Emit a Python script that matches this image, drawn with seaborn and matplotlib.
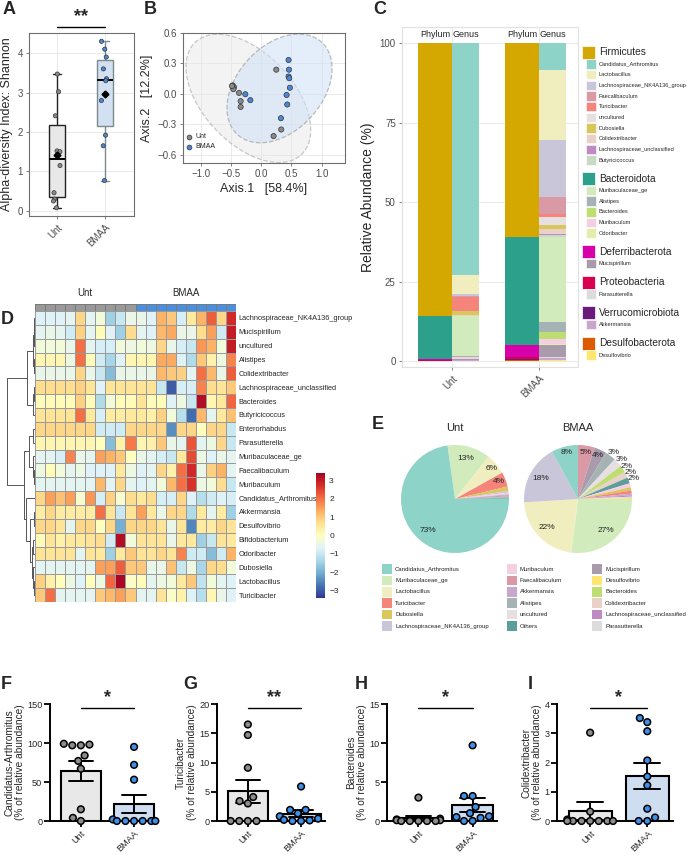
import numpy as np
import pandas as pd
import matplotlib
matplotlib.use("Agg")
import matplotlib.pyplot as plt
import seaborn as sns
from matplotlib.patches import Rectangle, Ellipse
from matplotlib.colors import LinearSegmentedColormap, ListedColormap

sns.set_style("white")
plt.rcParams["font.family"] = ["Liberation Sans", "DejaVu Sans"]

# ---------------- data ----------------
groups = ["Unt", "BMAA"]

# A: Shannon
shannon_unt = [3.47, 3.02, 2.41, 1.52, 1.50, 1.15, 0.46, 0.30, 0.25, 0.08]
shannon_bmaa = [4.30, 4.10, 3.90, 3.60, 3.35, 3.30, 2.80, 1.92, 1.65, 0.77]

# B: PCoA
pcoa_unt_x = [-0.475, -0.453, -0.464, -0.486, -0.37, -0.343, -0.343, 0.249, 0.331, 0.204]
pcoa_unt_y = [0.084, 0.067, 0.047, 0.078, 0.01, -0.071, -0.128, 0.239, -0.35, -0.415]
pcoa_bmaa_x = [-0.265, -0.182, 0.453, 0.459, 0.453, 0.464, 0.475, 0.42, 0.431, 0.326]
pcoa_bmaa_y = [-0.003, -0.061, 0.334, 0.239, 0.172, 0.155, 0.061, -0.01, -0.104, -0.239]

# C: stacked composition
phyla = ["Firmicutes", "Bacteroidota", "Deferribacterota", "Proteobacteria",
         "Verrucomicrobiota", "Desulfobacterota"]
phylum_unt = [85.8, 13.6, 0.3, 0.1, 0.15, 0.05]
phylum_bmaa = [61.0, 34.0, 3.8, 0.6, 0.3, 0.3]
phylum_genera = [
    ["Candidatus_Arthromitus", "Lactobacillus", "Lachnospiraceae_NK4A136_group", "Faecalibaculum",
     "Turicibacter", "uncultured", "Dubosiella", "Colidextribacter", "Lachnospiraceae_unclassified",
     "Butyricicoccus"],
    ["Muribaculaceae_ge", "Alistipes", "Bacteroides", "Muribaculum", "Odoribacter"],
    ["Mucispirillum"],
    ["Parasutterella"],
    ["Akkermansia"],
    ["Desulfovibrio"],
]
genus_stack = [g for lst in phylum_genera for g in lst]
genus_unt = [73.0, 6.0, 0.5, 0.2, 4.4, 0.2, 1.3, 0.1, 0.05, 0.05,
             12.6, 0.2, 0.03, 0.5, 0.1, 0.3, 0.1, 0.3, 0.05]
genus_bmaa = [8.5, 21.8, 18.2, 5.2, 1.0, 2.6, 1.0, 1.6, 0.5, 0.4,
              26.8, 3.2, 2.2, 1.6, 0.3, 3.7, 0.5, 0.4, 0.4]

# D: heatmap (z-scores)
heat_rows = ["Lachnospiraceae_NK4A136_group", "Mucispirillum", "uncultured", "Alistipes",
             "Colidextribacter", "Lachnospiraceae_unclassified", "Bacteroides", "Butyricicoccus",
             "Enterorhabdus", "Parasutterella", "Muribaculaceae_ge", "Faecalibaculum", "Muribaculum",
             "Candidatus_Arthromitus", "Akkermansia", "Desulfovibrio", "Bifidobacterium",
             "Odoribacter", "Dubosiella", "Lactobacillus", "Turicibacter"]
heat_unt = [
    [-0.7, -0.7, -0.7, -0.6, 0.8, -0.6, -0.3, -1.5, -1.0, -0.5],
    [-0.6, -0.5, -0.6, -0.9, 0.9, -0.6, 0.1, -0.7, -1.5, 0.7],
    [-0.3, -0.3, -0.3, -0.5, 2.0, -0.6, -0.8, -0.8, -0.3, -0.4],
    [0.2, 0.2, 0.2, -0.4, 2.0, 0.1, -0.9, -1.4, -0.7, 0.2],
    [-0.5, -0.5, -0.5, -0.5, 0.8, -0.5, -1.0, -1.8, -0.5, -0.5],
    [0.7, 0.7, 0.7, 0.7, 0.9, 0.6, -0.7, 0.6, 0.6, 0.6],
    [0.1, 0.1, 0.1, 0.1, 0.9, 0.1, -1.3, -0.3, 0.1, 0.1],
    [0.6, 0.6, 0.6, 0.6, 2.0, 0.5, -0.8, 0.4, 0.4, 0.5],
    [0.8, 0.8, 0.8, 0.8, 0.8, 0.8, -0.9, -0.9, -0.9, 0.8],
    [0.2, 0.2, 0.2, 0.2, 0.2, 0.2, 0.0, -1.8, 0.3, 1.9],
    [-0.6, -0.6, -0.8, 1.8, -0.5, -0.6, 1.5, 1.3, 1.0, 0.0],
    [-0.4, 0.1, -0.3, -0.6, -0.4, -0.7, -0.7, -0.7, 0.5, -0.4],
    [-0.6, -0.6, -0.6, -0.6, -0.6, -0.6, 1.2, -0.6, 0.8, -0.6],
    [0.8, 1.5, 1.1, 1.5, -0.2, 1.6, -0.8, 0.9, -0.2, 0.7],
    [0.4, 0.8, 0.4, 0.4, 0.4, 0.4, 2.0, 0.6, -1.0, 0.6],
    [0.8, 0.8, 0.6, -0.6, 0.8, 0.8, 0.0, 0.8, -2.0, 0.8],
    [0.1, 0.6, 0.3, 0.5, 0.5, 0.6, 0.7, -0.9, 3.2, -0.3],
    [0.6, 0.6, 0.6, 0.6, -0.6, 0.6, 0.5, -1.5, 0.5, 1.0],
    [-0.6, -0.6, -0.6, -0.6, -0.6, -0.6, 1.5, 1.5, 2.2, 1.0],
    [0.9, 0.3, 0.0, -0.4, -0.7, 0.0, -0.4, 2.1, 3.3, -0.1],
    [1.0, 2.0, -0.6, -0.6, -0.6, -0.6, 1.0, 1.2, 1.5, 1.0],
]
heat_bmaa = [
    [-0.5, -0.7, 1.3, 1.0, -0.8, 0.5, 1.3, 2.2, 0.8, 2.8],
    [-0.6, -0.7, 1.2, 1.4, -0.5, -0.5, 0.7, 1.5, -0.9, 3.0],
    [-0.3, -0.4, 0.8, -0.5, -0.8, -1.0, 1.6, 1.3, -0.3, 3.0],
    [0.2, 0.2, 1.4, 1.4, -0.7, -1.3, 1.0, 0.3, -0.4, 1.8],
    [-0.5, -0.5, 1.2, 1.0, 0.9, -0.6, 2.0, 1.2, -0.5, 2.2],
    [0.6, 0.6, -1.0, -3.0, -0.8, -0.8, 1.8, 0.7, 0.6, 1.0],
    [0.6, 0.1, 0.1, -0.7, -0.4, -1.0, 3.2, 0.2, 0.5, 2.1],
    [0.5, 0.3, 0.9, -0.3, -1.2, -2.8, 1.2, -0.6, 0.5, 1.1],
    [0.8, 0.8, 0.8, -2.4, 0.8, 0.8, 0.0, 0.8, 0.8, -1.0],
    [0.2, 0.3, 1.0, -0.5, -0.6, 2.3, -0.6, -0.4, 0.8, -1.0],
    [-0.5, -0.6, -0.8, -1.0, 0.5, 2.4, -0.4, -0.7, -0.5, -0.6],
    [-0.7, -0.6, 0.8, 0.3, 2.0, 2.8, -0.5, 0.9, 1.3, -0.6],
    [-0.7, -0.6, -0.3, 1.2, 2.0, 2.7, -0.4, -0.3, 0.7, -1.0],
    [0.5, 0.7, -0.8, -0.8, 0.8, -0.7, -1.2, -0.9, -0.7, -0.8],
    [1.5, 0.5, -0.5, 0.8, 0.8, -1.3, 0.5, -0.6, 0.4, -1.5],
    [0.8, 0.8, 0.6, -0.5, 0.6, -2.5, 0.4, 0.4, 0.8, 0.6],
    [0.6, 0.6, 0.6, -0.5, 0.5, 0.5, -1.5, -1.0, 0.6, 0.5],
    [0.6, 0.6, 0.8, 0.6, 1.8, -0.9, -0.9, -1.8, -0.9, 1.3],
    [1.0, -0.5, -0.5, 1.1, -1.0, -0.4, -1.4, 0.8, 0.7, -0.3],
    [0.1, -0.6, -0.4, -0.3, 0.5, 1.0, -1.1, -0.3, -0.6, -0.7],
    [-0.6, -0.6, 0.6, -0.1, 0.3, -0.7, -1.2, 0.2, -0.5, -0.7],
]
# row dendrogram: [left, right, merge height]
dendro_tree = [[[[[0, 1, 2], 2, 3], [3, 4, 2], 7], [[5, 6, 3], 7, 6], 23],
               [[[8, 9, 6], [10, [11, 12, 3], 6], 17],
                [13, [[14, 15, 4], [[16, 17, 5], [18, [19, 20, 3], 6], 9], 15], 27], 33],
               83]

# E: pies (clockwise from start)
pie_unt_names = ["Muribaculaceae_ge", "Lactobacillus", "Turicibacter", "Dubosiella",
                 "Lachnospiraceae_NK4A136_group", "Muribaculum", "Akkermansia", "Mucispirillum",
                 "Faecalibaculum", "Alistipes", "Others", "Candidatus_Arthromitus"]
pie_unt_vals = [12.9, 6.2, 4.4, 1.3, 0.5, 0.5, 0.3, 0.3, 0.2, 0.2, 0.3, 72.8]
pie_bmaa_names = ["Faecalibaculum", "Mucispirillum", "Alistipes", "uncultured", "Bacteroides",
                  "Colidextribacter", "Others", "Muribaculum", "Dubosiella", "Turicibacter",
                  "Akkermansia", "Lachnospiraceae_unclassified", "Parasutterella", "Desulfovibrio",
                  "Muribaculaceae_ge", "Lactobacillus", "Lachnospiraceae_NK4A136_group",
                  "Candidatus_Arthromitus"]
pie_bmaa_vals = [5.0, 3.7, 3.2, 2.6, 2.2, 1.8, 1.8, 1.2, 1.0, 0.9, 0.5, 0.4, 0.4, 0.3,
                 27.0, 22.0, 18.0, 8.0]
pie_legend = ["Candidatus_Arthromitus", "Muribaculaceae_ge", "Lactobacillus", "Turicibacter",
              "Dubosiella", "Lachnospiraceae_NK4A136_group",
              "Muribaculum", "Faecalibaculum", "Akkermansia", "Alistipes", "uncultured", "Others",
              "Mucispirillum", "Desulfovibrio", "Bacteroides", "Colidextribacter",
              "Lachnospiraceae_unclassified", "Parasutterella"]

# F-I: individual genera (% relative abundance)
arthro_unt = [98, 99, 97, 97, 84, 77, 67, 15, 4, 0]
arthro_bmaa = [95, 72, 53, 2, 0, 0, 0, 0, 0, 0]
turici_unt = [16.5, 14.7, 9.1, 4.1, 3.4, 3.0, 0, 0, 0, 0]
turici_bmaa = [5.9, 1.9, 1.9, 1.3, 0.8, 0.4, 0.2, 0.1, 0, 0]
bactero_unt = [3.0, 0.3, 0.2, 0.1, 0.1, 0, 0, 0, 0, 0]
bactero_bmaa = [9.7, 3.2, 3.2, 1.8, 1.0, 0.6, 0.5, 0.4, 0.0, 0.0]
colidex_unt = [3.02, 0.32, 0.05, 0, 0, 0, 0, 0, 0, 0]
colidex_bmaa = [3.52, 3.38, 3.07, 2.07, 1.52, 1.22, 0.42, 0.12, 0, 0]

# ---------------- colours ----------------
phylum_colors = {"Firmicutes": "#d4a800", "Bacteroidota": "#2ca08a", "Deferribacterota": "#d800aa",
                 "Proteobacteria": "#d8004f", "Verrucomicrobiota": "#6a1b7e", "Desulfobacterota": "#db5b00"}
genus_colors = {
    "Candidatus_Arthromitus": "#8dd3c7", "Lactobacillus": "#f0eebf",
    "Lachnospiraceae_NK4A136_group": "#c8c6d8", "Faecalibaculum": "#d99aa6", "Turicibacter": "#f5857a",
    "uncultured": "#e8dfe2", "Dubosiella": "#d9c65c", "Colidextribacter": "#ead1c7",
    "Lachnospiraceae_unclassified": "#c08ac2", "Butyricicoccus": "#cad9c6",
    "Muribaculaceae_ge": "#d2ebbd", "Alistipes": "#a6b3b5", "Bacteroides": "#bedd72",
    "Muribaculum": "#f4cfe2", "Odoribacter": "#e2eeaa", "Mucispirillum": "#a99bab",
    "Parasutterella": "#dcdcdc", "Akkermansia": "#c9a6cb", "Desulfovibrio": "#ffe66e",
    "Others": "#5e9e9a",
}
grp_box = {"Unt": ("#e8e8e8", "#222222"), "BMAA": ("#cddff6", "#7d8b8e")}
grp_pt = {"Unt": "#8a8a8a", "BMAA": "#4a88d4"}
bar_fill = {"Unt": "#e8e8e8", "BMAA": "#c8ddf5"}
bar_pt = {"Unt": "#8c8c8c", "BMAA": "#3f8fe8"}

# ---------------- figure ----------------
W, H = 690, 855
fig = plt.figure(figsize=(W / 100, H / 100), dpi=100)


def ax_px(x0, y0, x1, y1):
    return fig.add_axes([x0 / W, 1 - y1 / H, (x1 - x0) / W, (y1 - y0) / H])


def panel_letter(x, y, s):
    fig.text(x / W, 1 - y / H, s, fontsize=13, fontweight="bold", va="center", ha="left")


def gg_axes(ax):
    for sp in ax.spines.values():
        sp.set_visible(True)
        sp.set_color("#6e6e6e")
        sp.set_linewidth(0.8)
    ax.grid(True, color="#e6e6e6", lw=0.6)
    ax.set_axisbelow(True)
    ax.tick_params(axis="both", length=2.5, width=0.6, color="#6e6e6e", labelsize=7,
                   labelcolor="#4d4d4d", pad=2, left=True, bottom=True)


# ---- A ----
axA = ax_px(29, 33, 134, 216)
dfA = pd.DataFrame({"group": ["Unt"] * len(shannon_unt) + ["BMAA"] * len(shannon_bmaa),
                    "val": shannon_unt + shannon_bmaa})
for grp in groups:
    fill, edge = grp_box[grp]
    sns.boxplot(data=dfA[dfA.group == grp], x="group", y="val", order=groups, color=fill,
                linecolor=edge, linewidth=1.0, width=0.32, whis=np.inf, showmeans=True,
                meanprops=dict(marker="D", markerfacecolor="black", markeredgecolor="black",
                               markersize=3.5, zorder=5),
                medianprops=dict(color="black", linewidth=1.4), ax=axA)
np.random.seed(3)
sns.stripplot(data=dfA, x="group", y="val", order=groups, hue="group", palette=grp_pt,
              jitter=0.08, size=3, edgecolor="#333333", linewidth=0.5, legend=False, ax=axA, zorder=4)
axA.set_xlim(-0.58, 1.6)
axA.set_ylim(-0.13, 4.51)
axA.set_yticks([0, 1, 2, 3, 4])
axA.set_xlabel("")
axA.set_ylabel("Alpha-diversity Index: Shannon", fontsize=9, labelpad=3)
gg_axes(axA)
plt.setp(axA.get_xticklabels(), rotation=45, ha="right", rotation_mode="anchor")
axA.plot([0, 1], [4.66, 4.66], color="black", lw=1.0, clip_on=False)
axA.text(0.5, 4.7, "**", ha="center", va="bottom", fontsize=13, fontweight="bold")

# ---- B ----
axB = ax_px(183, 33, 345, 163)
ellipse_scale = 3.1


def conf_ellipse(x, y, **kw):
    cov = np.cov(x, y)
    vals, vecs = np.linalg.eigh(cov)
    order = vals.argsort()[::-1]
    vals, vecs = vals[order], vecs[:, order]
    angle = np.degrees(np.arctan2(vecs[1, 0], vecs[0, 0]))
    w, h = 2 * ellipse_scale * np.sqrt(vals)
    return Ellipse((np.mean(x), np.mean(y)), w, h, angle=angle, **kw)


axB.add_patch(conf_ellipse(pcoa_unt_x, pcoa_unt_y, facecolor="#e6e6e6", alpha=0.45,
                           edgecolor="#8a8a8a", ls="--", lw=0.9))
axB.add_patch(conf_ellipse(pcoa_bmaa_x, pcoa_bmaa_y, facecolor="#cfe0f7", alpha=0.55,
                           edgecolor="#8a8a8a", ls="--", lw=0.9))
dfB = pd.DataFrame({"x": pcoa_unt_x + pcoa_bmaa_x, "y": pcoa_unt_y + pcoa_bmaa_y,
                    "group": ["Unt"] * len(pcoa_unt_x) + ["BMAA"] * len(pcoa_bmaa_x)})
sns.scatterplot(data=dfB, x="x", y="y", hue="group", palette=grp_pt, s=14, edgecolor="#333333",
                linewidth=0.5, legend=False, ax=axB, zorder=4)
axB.set_xlim(-1.30, 1.39)
axB.set_ylim(-0.68, 0.60)
axB.set_xticks([-1.0, -0.5, 0.0, 0.5, 1.0])
axB.set_yticks([-0.6, -0.3, 0.0, 0.3, 0.6])
axB.set_xlabel("Axis.1   [58.4%]", fontsize=9, labelpad=3)
axB.set_ylabel("Axis.2   [12.2%]", fontsize=9, labelpad=3)
gg_axes(axB)
for i, grp in enumerate(groups):
    axB.scatter([0.04], [0.20 - i * 0.075], transform=axB.transAxes, s=12, color=grp_pt[grp],
                edgecolor="#333333", linewidth=0.5, zorder=5)
    axB.text(0.075, 0.20 - i * 0.075, grp, transform=axB.transAxes, fontsize=5, va="center")

# ---- C ----
axC = ax_px(402, 27, 578, 367)
wp, wg = 0.39, 0.31
for i, grp in enumerate(groups):
    xc = i + 1
    pv = np.array(phylum_unt if grp == "Unt" else phylum_bmaa)
    gv = np.array(genus_unt if grp == "Unt" else genus_bmaa)
    pb = 100 - np.cumsum(pv)
    axC.bar([xc - wp] * len(pv), pv, bottom=pb, width=wp, align="edge",
            color=[phylum_colors[p] for p in phyla], linewidth=0)
    gb = 100 - np.cumsum(gv)
    axC.bar([xc] * len(gv), gv, bottom=gb, width=wg, align="edge",
            color=[genus_colors[g] for g in genus_stack], linewidth=0)
    axC.text(xc - wp / 2, 101.2, "Phylum", ha="center", va="bottom", fontsize=6.5)
    axC.text(xc + wg / 2, 101.2, "Genus", ha="center", va="bottom", fontsize=6.5)
axC.set_xlim(0.425, 2.45)
axC.set_ylim(-1.8, 105.1)
axC.set_xticks([1, 2])
axC.set_xticklabels(groups)
axC.set_yticks([0, 25, 50, 75, 100])
axC.set_ylabel("Relative Abundance (%)", fontsize=10, labelpad=3)
gg_axes(axC)
for sp in axC.spines.values():
    sp.set_color("#e0e0e0")
plt.setp(axC.get_xticklabels(), rotation=45, ha="right", rotation_mode="anchor")

# C legend
axL = ax_px(578, 40, 690, 370)
axL.set_xlim(578, 690)
axL.set_ylim(370, 40)
axL.axis("off")
yy = 52
for p, glist in zip(phyla, phylum_genera):
    axL.add_patch(Rectangle((582, yy - 6.5), 13, 13, facecolor=phylum_colors[p], edgecolor="white", lw=0.5))
    axL.text(599, yy, p, fontsize=7.3, va="center", ha="left")
    yy += 12
    for g in glist:
        axL.add_patch(Rectangle((586, yy - 4.8), 10, 9.6, facecolor=genus_colors[g], edgecolor="white", lw=0.4))
        axL.text(598.5, yy, g, fontsize=4.05, va="center", ha="left")
        yy += 10.67
    yy += 7.8

# ---- D ----
heat = np.hstack([np.array(heat_unt), np.array(heat_bmaa)])
ph_cmap = LinearSegmentedColormap.from_list(
    "ph", ["#313695", "#4575b4", "#74add1", "#abd9e9", "#e0f3f8", "#ffffbf",
           "#fee090", "#fdae61", "#f46d43", "#d73027", "#a50026"])
axD = ax_px(35, 311, 236, 602)
axCb = ax_px(316, 473, 325, 598)
sns.heatmap(heat, ax=axD, cmap=ph_cmap, vmin=-3.4, vmax=3.4, linewidths=0.5, linecolor="#9a9a9a",
            xticklabels=False, yticklabels=heat_rows, cbar_ax=axCb)
axD.yaxis.tick_right()
axD.tick_params(axis="y", length=0, labelsize=5.3, pad=2, labelrotation=0)
axCb.tick_params(length=0, labelsize=6, pad=3)
axCb.set_yticks([-3, -2, -1, 0, 1, 2, 3])
for sp in axCb.spines.values():
    sp.set_visible(False)

axAnn = ax_px(35, 304, 236, 311)
n_u, n_b = len(heat_unt[0]), len(heat_bmaa[0])
ann = np.array([[0] * n_u + [1] * n_b])
sns.heatmap(ann, ax=axAnn, cmap=ListedColormap(["#9a9a9a", "#4a90e2"]), vmin=0, vmax=1, cbar=False,
            linewidths=0.5, linecolor="#7a7a7a", xticklabels=False, yticklabels=False)
axAnn.text(n_u / 2, -0.9, "Unt", ha="center", va="bottom", fontsize=7)
axAnn.text(n_u + n_b / 2, -0.9, "BMAA", ha="center", va="bottom", fontsize=7)

axDen = ax_px(5, 311, 35, 602)


def draw_node(ax, node):
    if isinstance(node, int):
        return node + 0.5, 0.0
    l, r, h = node
    yl, hl = draw_node(ax, l)
    yr, hr = draw_node(ax, r)
    ax.plot([hl, h, h, hr], [yl, yl, yr, yr], color="#555555", lw=0.7, solid_capstyle="butt")
    return (yl + yr) / 2, h


draw_node(axDen, dendro_tree)
axDen.set_xlim(90, 0)
axDen.set_ylim(len(heat_rows), 0)
axDen.axis("off")

# ---- E ----
def draw_pie(cx, cy, r_px, names, vals, start, title):
    size = 2.4 * r_px
    ax = ax_px(cx - size / 2, cy - size / 2, cx + size / 2, cy + size / 2)
    wedges, _ = ax.pie(vals, colors=[genus_colors[n] for n in names], startangle=start,
                       counterclock=False, radius=1.0, wedgeprops=dict(linewidth=0))
    total = float(sum(vals))
    for w, v in zip(wedges, vals):
        pct = 100 * v / total
        if round(pct) < 2:
            continue
        ang = np.radians((w.theta1 + w.theta2) / 2)
        if pct < 3.5:
            rr = 1.09
        elif pct < 10:
            rr = 0.88
        else:
            rr = 0.78
        ax.text(rr * np.cos(ang), rr * np.sin(ang), f"{round(pct):d}%", ha="center", va="center",
                fontsize=6, color="#222222")
    ax.set_xlim(-1.2, 1.2)
    ax.set_ylim(-1.2, 1.2)
    ax.set_aspect("equal")
    fig.text(cx / W, 1 - 428 / H, title, ha="center", va="center", fontsize=8)


draw_pie(455, 499, 54, pie_unt_names, pie_unt_vals, 98, "Unt")
draw_pie(578, 499, 54, pie_bmaa_names, pie_bmaa_vals, 90, "BMAA")

axEL = ax_px(370, 560, 690, 635)
axEL.set_xlim(370, 690)
axEL.set_ylim(635, 560)
axEL.axis("off")
col_x = [382, 507, 592]
for k, g in enumerate(pie_legend):
    c, rrow = divmod(k, 6)
    y = 569 + rrow * 11.4
    axEL.add_patch(Rectangle((col_x[c], y - 4.8), 10, 9.6, facecolor=genus_colors[g], edgecolor="none"))
    axEL.text(col_x[c] + 13, y, g, fontsize=4.35, va="center", ha="left", color="#222222")

# ---- F-I ----
def bar_panel(x0, x1, unt, bmaa, ylabel, ymax, ystep, stars):
    ax = ax_px(x0, 704, x1, 821)
    df = pd.DataFrame({"group": ["Unt"] * len(unt) + ["BMAA"] * len(bmaa), "val": unt + bmaa})
    sns.barplot(data=df, x="group", y="val", hue="group", order=groups, palette=bar_fill,
                errorbar="se", capsize=0.45, err_kws={"color": "black", "linewidth": 1.4},
                edgecolor="black", linewidth=1.5, width=0.75, legend=False, ax=ax)
    sns.swarmplot(data=df, x="group", y="val", hue="group", order=groups, palette=bar_pt,
                  size=4.8, edgecolor="black", linewidth=1.1, legend=False, ax=ax, warn_thresh=1)
    for coll in ax.collections:
        coll.set_clip_on(False)
        coll.set_zorder(4)
    ax.set_xlim(-0.58, 1.45)
    ax.set_ylim(0, ymax)
    ax.set_yticks(np.arange(0, ymax + ystep / 2, ystep))
    ax.set_xlabel("")
    ax.set_ylabel(ylabel + "\n(% of relative abundance)", fontsize=7.3, labelpad=1.5, linespacing=1.1)
    sns.despine(ax=ax)
    for sp in ["left", "bottom"]:
        ax.spines[sp].set_linewidth(1.4)
        ax.spines[sp].set_color("black")
    ax.tick_params(axis="both", direction="out", length=4, width=1.3, labelsize=6.6, pad=1.5,
                   left=True, bottom=True, color="black")
    plt.setp(ax.get_xticklabels(), rotation=45, ha="right", rotation_mode="anchor")
    ax.plot([0, 1], [0.965 * ymax] * 2, color="black", lw=1.0, clip_on=False)
    ax.text(0.5, 0.985 * ymax, stars, ha="center", va="bottom", fontsize=13, fontweight="bold")
    return ax


bar_panel(50, 158, arthro_unt, arthro_bmaa, "Candidatus-Arthromitus", 150, 50, "*")
bar_panel(217, 325, turici_unt, turici_bmaa, "Turicibacter", 20, 5, "**")
bar_panel(387, 497, bactero_unt, bactero_bmaa, "Bacteroides", 15, 5, "*")
bar_panel(557, 673, colidex_unt, colidex_bmaa, "Colidextribacter", 4, 1, "*")

# panel letters
panel_letter(3, 10, "A")
panel_letter(144, 10, "B")
panel_letter(373, 10, "C")
panel_letter(1, 320, "D")
panel_letter(372, 424, "E")
panel_letter(1, 684, "F")
panel_letter(183, 684, "G")
panel_letter(355, 684, "H")
panel_letter(528, 684, "I")

fig.savefig("out.png", dpi=100)
